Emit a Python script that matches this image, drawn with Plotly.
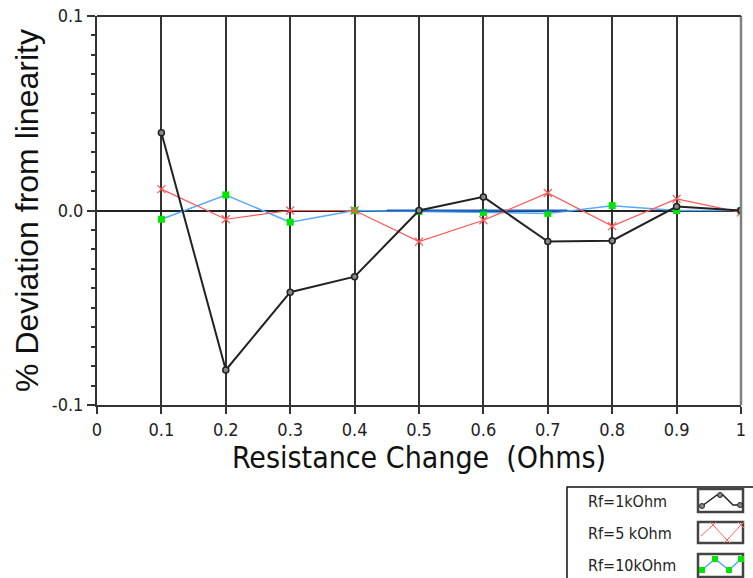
import plotly.graph_objects as go

# ---- data ----
x_vals = [0.1, 0.2, 0.3, 0.4, 0.5, 0.6, 0.7, 0.8, 0.9, 1.0]
rf_1k = [0.040, -0.082, -0.042, -0.034, 0.000, 0.007, -0.016, -0.0155, 0.002, 0.000]
rf_5k = [0.011, -0.0045, 0.000, 0.000, -0.016, -0.005, 0.009, -0.008, 0.006, -0.001]
rf_10k = [-0.0045, 0.008, -0.006, 0.000, -0.0005, -0.001, -0.0015, 0.0025, 0.000, 0.000]
seg_x = [0.45, 0.73]
seg_y = [0.0, 0.0]
legend_names = ["Rf=1kOhm", "Rf=5 kOhm", "Rf=10kOhm"]
x_ticks = [0, 0.1, 0.2, 0.3, 0.4, 0.5, 0.6, 0.7, 0.8, 0.9, 1.0]
x_ticktext = ["0", "0.1", "0.2", "0.3", "0.4", "0.5", "0.6", "0.7", "0.8", "0.9", "1"]
y_ticks = [-0.1, 0.0, 0.1]
y_ticktext = ["-0.1", "0.0", "0.1"]

W, H = 753, 578
L, R, T, B = 97, 12, 16, 173
PW = W - L - R
PH = H - T - B


def px(xp):
    return (xp - L) / PW


def py(yp):
    return (H - B - yp) / PH


FAM = "Tahoma, DejaVu Sans Condensed, DejaVu Sans"
TICKFONT = dict(family=FAM, size=18, color="#222")

fig = go.Figure()

fig.add_trace(go.Scatter(
    x=x_vals, y=rf_10k, mode="lines+markers", name=legend_names[2], showlegend=False,
    line=dict(color="#55aaff", width=1.5),
    marker=dict(symbol="square", size=7, color="#00e600", line=dict(width=0))))
fig.add_trace(go.Scatter(
    x=seg_x, y=seg_y, mode="lines", showlegend=False,
    line=dict(color="#1f5fbf", width=2)))
fig.add_trace(go.Scatter(
    x=x_vals, y=rf_5k, mode="lines+markers", name=legend_names[1], showlegend=False,
    line=dict(color="#ff5555", width=1.2),
    marker=dict(symbol="x-thin-open", size=8, line=dict(color="#ff4444", width=1.2))))
fig.add_trace(go.Scatter(
    x=x_vals, y=rf_1k, mode="lines+markers", name=legend_names[0], showlegend=False,
    line=dict(color="#222222", width=2),
    marker=dict(symbol="circle", size=6, color="#888888", line=dict(color="#222222", width=1.5))))

shapes = []
# right border (gray)
shapes.append(dict(type="line", xref="paper", yref="paper", x0=1, x1=1, y0=0, y1=1,
                   line=dict(color="#808080", width=2.5), layer="above"))

# custom legend box
shapes.append(dict(type="rect", xref="paper", yref="paper",
                   x0=px(567), x1=px(770), y0=py(487), y1=py(600),
                   line=dict(color="#111", width=1.5), fillcolor="white"))
annotations = []
rows_y = [502, 533, 565]
boxes = [(489, 512), (522, 543), (554, 577)]
for name, ry in zip(legend_names, rows_y):
    annotations.append(dict(xref="paper", yref="paper", x=px(586), y=py(ry), text=name,
                            showarrow=False, xanchor="left", yanchor="middle",
                            font=dict(family=FAM, size=16, color="#222")))
for (b0, b1) in boxes:
    shapes.append(dict(type="rect", xref="paper", yref="paper",
                       x0=px(698), x1=px(743), y0=py(b0), y1=py(b1),
                       line=dict(color="#444", width=2.5), fillcolor="white"))


def path(pts):
    return "M " + " L ".join(f"{px(a):.5f},{py(b):.5f}" for a, b in pts)


# icon 1: black
ic1 = [(702, 506), (717, 495), (723, 495), (733, 505), (740, 505)]
shapes.append(dict(type="path", xref="paper", yref="paper", path=path(ic1),
                   line=dict(color="#222", width=1.5)))
for (a, b) in [(702, 506), (720, 495), (740, 505)]:
    shapes.append(dict(type="circle", xref="paper", yref="paper",
                       x0=px(a - 2.5), x1=px(a + 2.5), y0=py(b - 2.5), y1=py(b + 2.5),
                       line=dict(color="#222", width=1), fillcolor="#888"))
# icon 2: red
ic2 = [(701, 536), (713, 525), (727, 540), (741, 525)]
shapes.append(dict(type="path", xref="paper", yref="paper", path=path(ic2),
                   line=dict(color="#ff6666", width=1)))
for (a, b) in [(713, 525), (727, 540), (741, 525)]:
    shapes.append(dict(type="path", xref="paper", yref="paper",
                       path=path([(a - 3, b - 3), (a + 3, b + 3)]) + " " + path([(a - 3, b + 3), (a + 3, b - 3)]),
                       line=dict(color="#ff6666", width=1)))
# icon 3: green/blue
ic3 = [(702, 570), (715, 559), (729, 570), (741, 559)]
shapes.append(dict(type="path", xref="paper", yref="paper", path=path(ic3),
                   line=dict(color="#55aaff", width=1.5)))
for (a, b) in ic3:
    shapes.append(dict(type="rect", xref="paper", yref="paper",
                       x0=px(a - 3), x1=px(a + 3), y0=py(b - 3), y1=py(b + 3),
                       line=dict(width=0), fillcolor="#00e600"))

fig.update_layout(
    width=W, height=H,
    margin=dict(l=L, r=R, t=T, b=B, pad=0, autoexpand=False),
    paper_bgcolor="white", plot_bgcolor="white",
    showlegend=False,
    shapes=shapes, annotations=annotations,
    xaxis=dict(
        range=[0, 1], tickvals=x_ticks, ticktext=x_ticktext, automargin=False,
        showgrid=True, gridcolor="#333333", gridwidth=1.5,
        showline=True, linecolor="#333333", linewidth=2, mirror=False,
        ticks="outside", ticklen=7, tickwidth=1.5, tickcolor="#333",
        tickfont=TICKFONT, zeroline=False,
        title=dict(text="Resistance Change  (Ohms)", standoff=8,
                   font=dict(family=FAM, size=30, color="#111")),
    ),
    yaxis=dict(
        range=[-0.1, 0.1], tickvals=y_ticks, ticktext=y_ticktext, automargin=False,
        showgrid=False,
        showline=True, linecolor="#333333", linewidth=2, mirror=False,
        ticks="outside", ticklen=8, tickwidth=1.5, tickcolor="#333",
        minor=dict(dtick=0.01, ticks="outside", ticklen=4, tickwidth=1.5, tickcolor="#333", showgrid=False),
        tickfont=TICKFONT,
        zeroline=True, zerolinecolor="#222", zerolinewidth=1.5,
        title=dict(text="% Deviation from linearity", standoff=4,
                   font=dict(family="Liberation Sans, Arial", size=32, color="#111")),
    ),
)
# top border
fig.add_shape(type="line", xref="paper", yref="paper", x0=0, x1=1, y0=1, y1=1,
              line=dict(color="#333", width=2), layer="above")

fig.write_html("out.html")
